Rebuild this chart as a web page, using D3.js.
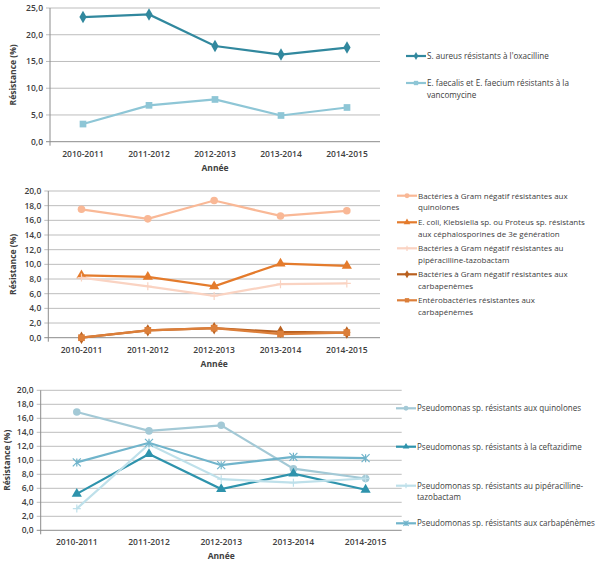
<!DOCTYPE html>
<html>
<head>
<meta charset="utf-8">
<script src="https://cdn.jsdelivr.net/npm/d3@7"></script>
<style>
  body { margin: 0; background: #fff; }
  svg text { font-family: "Open Sans", sans-serif; fill: #404040; }
</style>
</head>
<body>
<svg id="canvas" width="600" height="569"></svg>
<script>
const years = ["2010-2011", "2011-2012", "2012-2013", "2013-2014", "2014-2015"];

// panel 1
const saureusOxa = [23.3, 23.8, 17.9, 16.3, 17.6];
const enteroVanco = [3.3, 6.8, 7.9, 4.9, 6.4];

// panel 2
const gramQuino = [17.5, 16.2, 18.7, 16.6, 17.3];
const ecoliC3G = [8.5, 8.3, 7.0, 10.1, 9.8];
const gramPipTazo = [8.2, 7.0, 5.7, 7.3, 7.4];
const gramCarba = [0.0, 1.0, 1.3, 0.8, 0.7];
const enterobactCarba = [0.0, 1.0, 1.3, 0.5, 0.7];

// panel 3
const pseudoQuino = [16.9, 14.2, 15.0, 8.8, 7.4];
const pseudoCefta = [5.2, 10.9, 5.9, 8.1, 5.8];
const pseudoPipTazo = [3.1, 12.3, 7.3, 6.8, 7.4];
const pseudoCarba = [9.7, 12.5, 9.3, 10.5, 10.3];

const ticks1 = [0, 5, 10, 15, 20, 25];
const ticks2 = [0, 2, 4, 6, 8, 10, 12, 14, 16, 18, 20];

const svg = d3.select("#canvas");
const fmt = v => d3.format(".1f")(v).replace(".", ",");

function marker(g, type, x, y, size, color) {
  if (type === "plus") {
    g.append("path").attr("d", `M${x - size},${y}H${x + size}M${x},${y - size}V${y + size}`)
      .attr("stroke", color).attr("stroke-width", 1.2).attr("fill", "none");
  } else if (type === "star") {
    g.append("path").attr("d", `M${x - size},${y - size}L${x + size},${y + size}M${x - size},${y + size}L${x + size},${y - size}M${x},${y - size}V${y + size}`)
      .attr("stroke", color).attr("stroke-width", 1.2).attr("fill", "none");
  } else {
    const sym = { circle: d3.symbolCircle, square: d3.symbolSquare, diamond: d3.symbolDiamond, triangle: d3.symbolTriangle }[type];
    g.append("path").attr("d", d3.symbol(sym, size * size * 2.8)())
      .attr("transform", `translate(${x},${y})`).attr("fill", color);
  }
}

function drawPanel(p) {
  const g = svg.append("g");
  const x = d3.scalePoint().domain(years).range([p.left, p.right]).padding(0.5);
  const y = d3.scaleLinear().domain([0, p.max]).range([p.bottom, p.top]);

  // gridlines
  g.selectAll(".grid").data(p.ticks).enter().append("line")
    .attr("x1", p.left - 4).attr("x2", p.right)
    .attr("y1", d => y(d)).attr("y2", d => y(d))
    .attr("stroke", d => d === 0 ? "#8c8c8c" : "#bdbdbd").attr("stroke-width", 1);
  g.append("line").attr("x1", p.left).attr("x2", p.left).attr("y1", p.top).attr("y2", p.bottom + 4)
    .attr("stroke", "#8c8c8c");

  g.selectAll(".yl").data(p.ticks).enter().append("text")
    .attr("x", p.left - 7).attr("y", d => y(d) + 3)
    .attr("text-anchor", "end").attr("font-size", 8.5).attr("font-weight", 600)
    .text(fmt);

  g.selectAll(".xl").data(years).enter().append("text")
    .attr("x", d => x(d)).attr("y", p.bottom + 15)
    .attr("text-anchor", "middle").attr("font-size", 8.5).attr("font-weight", 600)
    .text(d => d);

  g.append("text").attr("x", (p.left + p.right) / 2).attr("y", p.bottom + 29)
    .attr("text-anchor", "middle").attr("font-size", 8.5).attr("font-weight", 700).text("Année");

  g.append("text")
    .attr("transform", `translate(${p.titleX},${(p.top + p.bottom) / 2}) rotate(-90)`)
    .attr("text-anchor", "middle").attr("font-size", 8.5).attr("font-weight", 700)
    .text("Résistance (%)");

  const line = d3.line().x((d, i) => x(years[i])).y(d => y(d));
  p.series.forEach(s => {
    g.append("path").attr("d", line(s.values)).attr("fill", "none")
      .attr("stroke", s.color).attr("stroke-width", 2.2);
    s.values.forEach((v, i) => marker(g, s.marker, x(years[i]), y(v), 4, s.color));
  });

  // legend
  const texts = [];
  p.series.forEach((s, k) => {
    const ly = p.legendY[k];
    g.append("line").attr("x1", p.legendX).attr("x2", p.legendX + 20)
      .attr("y1", ly).attr("y2", ly).attr("stroke", s.color).attr("stroke-width", 2.2);
    marker(g, s.marker, p.legendX + 10, ly, 2.6, s.color);
    s.label.forEach((t, j) => {
      texts.push(g.append("text").attr("x", p.legendX + 21).attr("y", ly + 3 + j * 11.5)
        .attr("font-size", 10).text(t));
    });
  });
  // fit legend font to the width the widest line has in the original
  const widest = d3.max(texts, t => t.node().getComputedTextLength());
  const fs = 10 * p.legendWidth / widest;
  texts.forEach(t => t.attr("font-size", fs));
}

drawPanel({
  left: 50, right: 380, top: 8, bottom: 141.7, max: 25, ticks: ticks1, titleX: 16,
  legendX: 406, legendY: [56, 83], legendWidth: 142,
  series: [
    { values: saureusOxa, color: "#31889e", marker: "diamond", label: ["S. aureus résistants  à l'oxacilline"] },
    { values: enteroVanco, color: "#8ec6d6", marker: "square", label: ["E. faecalis et E. faecium résistants à la", "vancomycine"] }
  ]
});

drawPanel({
  left: 48.3, right: 380, top: 191, bottom: 337.7, max: 20, ticks: ticks2, titleX: 16,
  legendX: 397, legendY: [195.7, 222.3, 248.3, 274.3, 300.3], legendWidth: 167,
  series: [
    { values: gramQuino, color: "#f9b896", marker: "circle", label: ["Bactéries à Gram négatif résistantes aux", "quinolones"] },
    { values: ecoliC3G, color: "#e47b2c", marker: "triangle", label: ["E. coli, Klebsiella sp. ou Proteus sp. résistants", "aux céphalosporines de 3e génération"] },
    { values: gramPipTazo, color: "#fad3c2", marker: "plus", label: ["Bactéries à Gram négatif résistantes au", "pipéracilline-tazobactam"] },
    { values: gramCarba, color: "#b9601f", marker: "diamond", label: ["Bactéries à Gram négatif résistantes aux", "carbapenèmes"] },
    { values: enterobactCarba, color: "#dc7f3a", marker: "square", label: ["Entérobactéries résistantes aux", "carbapénèmes"] }
  ]
});

drawPanel({
  left: 40.7, right: 401.7, top: 390.3, bottom: 530.3, max: 20, ticks: ticks2, titleX: 10,
  legendX: 396, legendY: [408.3, 446.7, 485.7, 523.3], legendWidth: 178,
  series: [
    { values: pseudoQuino, color: "#a3c9d6", marker: "circle", label: ["Pseudomonas sp. résistants aux quinolones"] },
    { values: pseudoCefta, color: "#2e93ac", marker: "triangle", label: ["Pseudomonas sp. résistants à la ceftazidime"] },
    { values: pseudoPipTazo, color: "#bee0ea", marker: "plus", label: ["Pseudomonas sp. résistants au pipéracilline-", "tazobactam"] },
    { values: pseudoCarba, color: "#70b4cb", marker: "star", label: ["Pseudomonas sp. résistants aux carbapénèmes"] }
  ]
});
</script>
</body>
</html>
